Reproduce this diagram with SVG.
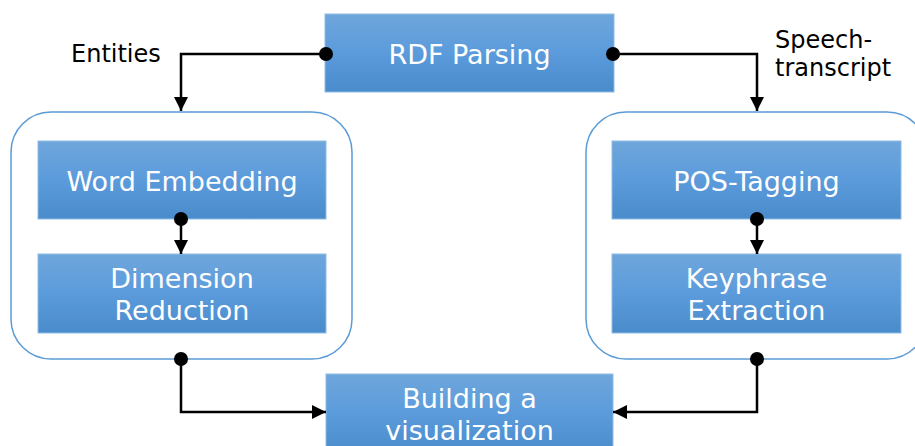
<svg xmlns="http://www.w3.org/2000/svg" width="915" height="446" viewBox="0 0 915 446">
  <defs>
    <linearGradient id="boxFill" x1="0" y1="0" x2="0" y2="1">
      <stop offset="0" stop-color="#6fa6db"/>
      <stop offset="0.5" stop-color="#5b9bdc"/>
      <stop offset="1" stop-color="#4a8bcc"/>
    </linearGradient>
    <marker id="arrow" viewBox="0 0 14 14" refX="14" refY="7" markerWidth="14" markerHeight="14" markerUnits="userSpaceOnUse" orient="auto">
      <path d="M0,0 L14,7 L0,14 z" fill="#000"/>
    </marker>
    <marker id="dot" viewBox="0 0 14 14" refX="7" refY="7" markerWidth="14" markerHeight="14" markerUnits="userSpaceOnUse">
      <circle cx="7" cy="7" r="7" fill="#000"/>
    </marker>
  </defs>
  <style>
    .box { fill: url(#boxFill); stroke: #8dbbe6; stroke-width: 1; }
    .group { fill: #fff; stroke: #5b9bd5; stroke-width: 1.5; }
    .label { font-family: "DejaVu Sans", sans-serif; font-size: 27px; fill: #fff; text-anchor: middle; }
    .note { font-family: "DejaVu Sans", sans-serif; font-size: 24px; fill: #000; }
    .edge { fill: none; stroke: #000; stroke-width: 2.5; marker-start: url(#dot); marker-end: url(#arrow); }
  </style>

  <!-- container groups -->
  <g id="left-group">
    <rect class="group" x="11" y="112" width="341" height="247" rx="40" ry="40"/>
  </g>
  <g id="right-group">
    <rect class="group" x="586" y="112" width="341" height="247" rx="40" ry="40"/>
  </g>

  <!-- nodes -->
  <g id="rdf-parsing">
    <rect class="box" x="325" y="14" width="289" height="78"/>
    <text class="label" x="469.5" y="64">RDF Parsing</text>
  </g>
  <g id="word-embedding">
    <rect class="box" x="38" y="141" width="288" height="78"/>
    <text class="label" x="182" y="191">Word Embedding</text>
  </g>
  <g id="dimension-reduction">
    <rect class="box" x="38" y="254" width="288" height="79"/>
    <text class="label" x="182" y="288">Dimension</text>
    <text class="label" x="182" y="320">Reduction</text>
  </g>
  <g id="pos-tagging">
    <rect class="box" x="612" y="141" width="289" height="78"/>
    <text class="label" x="756.5" y="191">POS-Tagging</text>
  </g>
  <g id="keyphrase-extraction">
    <rect class="box" x="612" y="254" width="289" height="79"/>
    <text class="label" x="756.5" y="288">Keyphrase</text>
    <text class="label" x="756.5" y="320">Extraction</text>
  </g>
  <g id="building-visualization">
    <rect class="box" x="326" y="374" width="287" height="80"/>
    <text class="label" x="469.5" y="408">Building a</text>
    <text class="label" x="469.5" y="440">visualization</text>
  </g>

  <!-- connectors -->
  <g id="connectors">
    <path class="edge" d="M326,54 H181 V111"/>
    <path class="edge" d="M613,54 H757 V111"/>
    <path class="edge" d="M181,219 V254"/>
    <path class="edge" d="M757,219 V254"/>
    <path class="edge" d="M181,359 V412 H326"/>
    <path class="edge" d="M757,359 V412 H613"/>
  </g>

  <!-- edge labels -->
  <g id="edge-labels">
    <text class="note" x="71" y="62">Entities</text>
    <text class="note" x="775" y="48">Speech-</text>
    <text class="note" x="775" y="76">transcript</text>
  </g>
</svg>
